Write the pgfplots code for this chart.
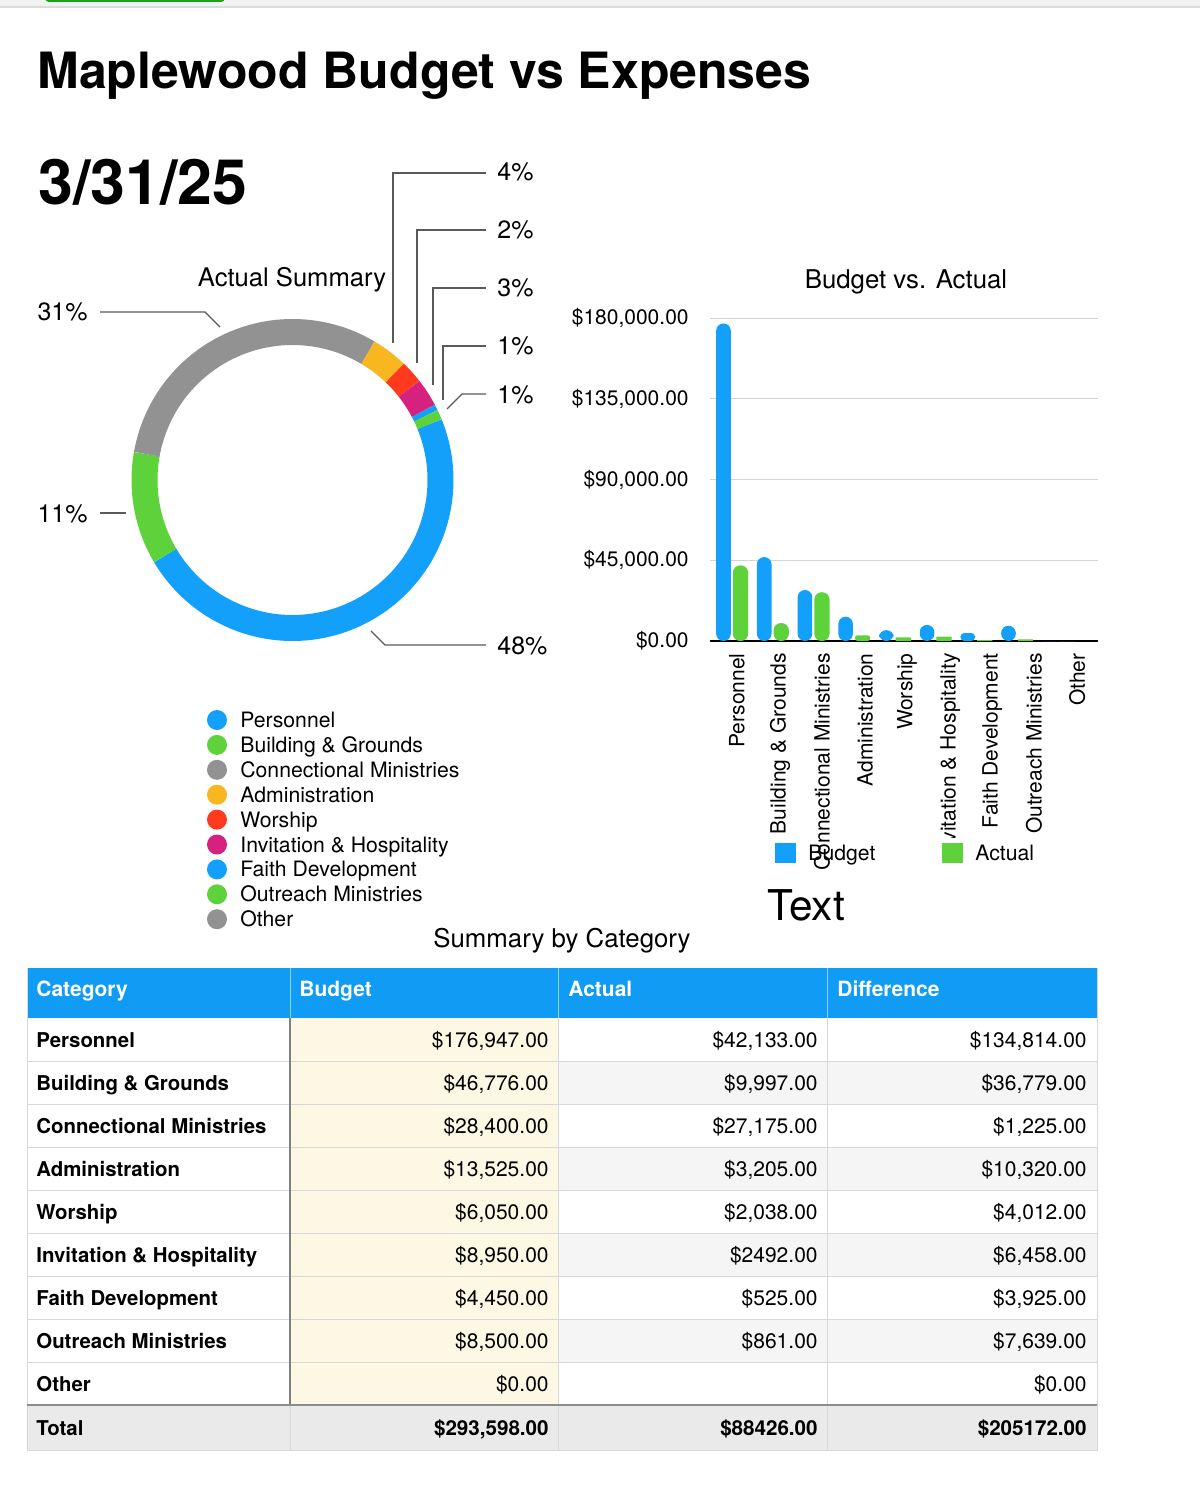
\documentclass[border=0pt]{standalone}
\usepackage{fontspec}
\setmainfont{TeX Gyre Heros}
\usepackage{pgfplots}
\pgfplotsset{compat=1.18}
\definecolor{cBlue}{RGB}{18,160,250}
\definecolor{cHead}{RGB}{16,155,245}
\definecolor{cGreen}{RGB}{94,210,58}
\definecolor{cGray}{RGB}{146,146,146}
\definecolor{cOrange}{RGB}{248,183,32}
\definecolor{cRed}{RGB}{255,58,30}
\definecolor{cMag}{RGB}{214,34,126}
\definecolor{cYel}{RGB}{252,248,228}
\definecolor{cAlt}{RGB}{245,245,245}
\definecolor{cTot}{RGB}{234,234,234}
\definecolor{cGrid}{RGB}{212,212,212}
\definecolor{cLine}{RGB}{216,216,216}
\definecolor{cLead}{RGB}{90,90,90}
\newcommand{\fsz}[1]{\fontsize{#1}{#1}\selectfont}
% Actual values (pie)
\def\PieTotal{88426}
\def\PieStart{22.2}
\edef\aI{\PieStart}
\edef\aII{\fpeval{\aI-42133/\PieTotal*360}}
\edef\aIII{\fpeval{\aII-9997/\PieTotal*360}}
\edef\aIV{\fpeval{\aIII-27175/\PieTotal*360}}
\edef\aV{\fpeval{\aIV-3205/\PieTotal*360}}
\edef\aVI{\fpeval{\aV-2038/\PieTotal*360}}
\edef\aVII{\fpeval{\aVI-2492/\PieTotal*360}}
\edef\aVIII{\fpeval{\aVII-525/\PieTotal*360}}
\edef\aIX{\fpeval{\aVIII-861/\PieTotal*360}}
\begin{document}
\begin{tikzpicture}
\begin{scope}[x=0.5pt,y=-0.5pt]
\fill[white] (0,0) rectangle (1200,1493);
\fill[white!95!black] (0,0) rectangle (1200,7);
\draw[white!86!black, line width=1pt] (0,7.5) -- (1200,7.5);
\fill[green!60!black!90, rounded corners=2pt] (45,-6) rectangle (225,2);
% titles
\node[anchor=base west, inner sep=0pt, font=\bfseries\fsz{25pt}] at (37,89) {Maplewood Budget vs Expenses};
\node[anchor=base west, inner sep=0pt, font=\bfseries\fsz{31.3pt}] at (38,204) {3/31/25};
\node[anchor=base, inner sep=0pt, font=\fsz{12.8pt}] at (292,286) {Actual Summary};
\node[anchor=base, inner sep=0pt, font=\fsz{12.9pt}] at (906,288) {Budget vs. Actual};
\node[anchor=base, inner sep=0pt, font=\fsz{12.9pt}] at (562,947) {Summary by Category};
% leader lines
\draw[cLead, line width=0.6pt] (100,312) -- (205,312) -- (220,327);
\draw[cLead, line width=0.6pt] (100,513) -- (126,513);
\draw[cLead, line width=0.6pt] (371,631) -- (385,645) -- (486,645);
\draw[cLead, line width=0.6pt] (393,343) -- (393,173) -- (486,173);
\draw[cLead, line width=0.6pt] (417,363) -- (417,230) -- (486,230);
\draw[cLead, line width=0.6pt] (433,385) -- (433,288) -- (486,288);
\draw[cLead, line width=0.6pt] (443,400) -- (443,346) -- (486,346);
\draw[cLead, line width=0.6pt] (447,409) -- (462,394) -- (486,394);
\foreach \yy/\tt in {172/4\%,230/2\%,288/3\%,346/1\%,395/1\%,646/48\%}
  \node[anchor=west, inner sep=0pt, font=\fsz{12.5pt}] at (497,\yy) {\tt};
\node[anchor=east, inner sep=0pt, font=\fsz{12.5pt}] at (88,312) {31\%};
\node[anchor=east, inner sep=0pt, font=\fsz{12.5pt}] at (88,514) {11\%};
% pie legend
\foreach \i/\cc/\tt in {0/cBlue/Personnel,1/cGreen/Building \& Grounds,2/cGray/Connectional Ministries,3/cOrange/Administration,4/cRed/Worship,5/cMag/Invitation \& Hospitality,6/cBlue/Faith Development,7/cGreen/Outreach Ministries,8/cGray/Other}{
  \fill[\cc] (217,720+24.9*\i) circle (10);
  \node[anchor=base west, inner sep=0pt, font=\fsz{10.6pt}] at (240,727.5+24.9*\i) {\tt};
}
\end{scope}

% donut
\begin{axis}[at={(146.25pt,-240pt)}, anchor=center, scale only axis,
  width=170pt, height=170pt, xmin=-170, xmax=170, ymin=-170, ymax=170,
  hide axis, clip=false]
\addplot[domain=\aII:\aI, samples=120, line width=13pt, color=cBlue] ({148*cos(x)},{148*sin(x)});
\addplot[domain=\aIII:\aII, samples=40, line width=13pt, color=cGreen] ({148*cos(x)},{148*sin(x)});
\addplot[domain=\aIV:\aIII, samples=90, line width=13pt, color=cGray] ({148*cos(x)},{148*sin(x)});
\addplot[domain=\aV:\aIV, samples=15, line width=13pt, color=cOrange] ({148*cos(x)},{148*sin(x)});
\addplot[domain=\aVI:\aV, samples=10, line width=13pt, color=cRed] ({148*cos(x)},{148*sin(x)});
\addplot[domain=\aVII:\aVI, samples=12, line width=13pt, color=cMag] ({148*cos(x)},{148*sin(x)});
\addplot[domain=\aVIII:\aVII, samples=4, line width=13pt, color=cBlue] ({148*cos(x)},{148*sin(x)});
\addplot[domain=\aIX:\aVIII, samples=5, line width=13pt, color=cGreen] ({148*cos(x)},{148*sin(x)});
\end{axis}

% bar chart
\begin{axis}[at={(355pt,-320.5pt)}, anchor=south west, scale only axis,
  width=194pt, height=161.5pt,
  xmin=-0.54, xmax=8.99, ymin=0, ymax=180000,
  axis x line*=bottom, axis y line*=left,
  y axis line style={draw=none}, x axis line style={line width=1pt,-},
  major tick length=0pt, scaled y ticks=false,
  ytick={0,45000,90000,135000,180000},
  yticklabels={{\$0.00},{\$45,000.00},{\$90,000.00},{\$135,000.00},{\$180,000.00}},
  yticklabel style={anchor=east, inner sep=0pt, font=\fsz{10.5pt}},
  yticklabel shift=10.5pt,
  ymajorgrids, grid style={cGrid, line width=0.5pt},
  xtick={0.12,1.18,2.21,3.27,4.30,5.36,6.39,7.42,8.48},
  xticklabels={Personnel,Building \& Grounds,Connectional Ministries,Administration,Worship,Invitation \& Hospitality,Faith Development,Outreach Ministries,Other},
  xticklabel style={rotate=90, anchor=east, inner sep=0pt, font=\fsz{10.5pt}},
  xticklabel shift=6pt,
  clip=false,
  bstyle/.style={ybar, fill=cBlue, draw=none, bar width=7.3pt, bar shift=-4.25pt},
  astyle/.style={ybar, fill=cGreen, draw=none, bar width=7.6pt, bar shift=4.25pt}]
% Budget
\addplot[bstyle, rounded corners=3.6pt]
 coordinates {(0,176947) (1,46776) (2,28400) (3,13525) (4,6050) (5,8950) (7,8500)};
\addplot[bstyle, rounded corners=1.9pt] coordinates {(6,4450)};
\addplot[bstyle] coordinates {(8,0)};
% Actual
\addplot[astyle, rounded corners=3.6pt] coordinates {(0,42133) (1,9997) (2,27175)};
\addplot[astyle, rounded corners=1.3pt] coordinates {(3,3205)};
\addplot[astyle] coordinates {(4,2038) (5,2492) (6,525) (7,861) (8,0)};
\end{axis}

\begin{scope}[x=0.5pt,y=-0.5pt]
% bar legend
\fill[white] (934,838) rectangle (970,880);
\fill[cBlue] (775,843) rectangle (796,863);
\node[anchor=base west, inner sep=0pt, font=\fsz{10.6pt}] at (808,860.5) {Budget};
\fill[cGreen] (942,843) rectangle (963,863);
\node[anchor=base west, inner sep=0pt, font=\fsz{10.6pt}] at (975,860.5) {Actual};
\node[anchor=base west, inner sep=0pt, font=\fsz{21.2pt}] at (767,920) {Text};
% table
\fill[cHead] (27,968) rectangle (1097,1018);
\draw[white!55!cHead, line width=0.5pt] (290,968) -- (290,1018) (558,968) -- (558,1018) (827,968) -- (827,1018);
\fill[cYel] (290,1018) rectangle (558,1405);
\foreach \r in {1,3,5,7} \fill[cAlt] (558,1018+43*\r) rectangle (1097,1061+43*\r);
\fill[cTot] (27,1405) rectangle (1097,1450);
\foreach \r in {1,...,8} \draw[cLine, line width=0.5pt] (27,1018+43*\r) -- (1097,1018+43*\r);
\draw[cLine, line width=0.5pt] (558,1018) -- (558,1450) (827,1018) -- (827,1450) (290,1405) -- (290,1450);
\draw[cLine, line width=0.5pt] (27,968) -- (27,1450) -- (1097,1450) -- (1097,968);
\draw[white!50!black, line width=0.6pt] (290,1018) -- (290,1405);
\draw[white!55!black, line width=1pt] (27,1405) -- (1097,1405);
\foreach \xx/\tt in {36/Category,299/Budget,568/Actual,837/Difference}
  \node[anchor=base west, inner sep=0pt, font=\bfseries\fsz{10.5pt}, text=white] at (\xx,996.5) {\tt};
\foreach \r/\cat/\bud/\act/\dif in {
 0/Personnel/{\$176,947.00}/{\$42,133.00}/{\$134,814.00},
 1/Building \& Grounds/{\$46,776.00}/{\$9,997.00}/{\$36,779.00},
 2/Connectional Ministries/{\$28,400.00}/{\$27,175.00}/{\$1,225.00},
 3/Administration/{\$13,525.00}/{\$3,205.00}/{\$10,320.00},
 4/Worship/{\$6,050.00}/{\$2,038.00}/{\$4,012.00},
 5/Invitation \& Hospitality/{\$8,950.00}/{\$2492.00}/{\$6,458.00},
 6/Faith Development/{\$4,450.00}/{\$525.00}/{\$3,925.00},
 7/Outreach Ministries/{\$8,500.00}/{\$861.00}/{\$7,639.00},
 8/Other/{\$0.00}/{}/{\$0.00}}{
  \node[anchor=base west, inner sep=0pt, font=\bfseries\fsz{10.2pt}] at (36,1047.5+43*\r) {\cat};
  \node[anchor=base east, inner sep=0pt, font=\fsz{10.5pt}] at (549,1047.5+43*\r) {\bud};
  \node[anchor=base east, inner sep=0pt, font=\fsz{10.5pt}] at (818,1047.5+43*\r) {\act};
  \node[anchor=base east, inner sep=0pt, font=\fsz{10.5pt}] at (1087,1047.5+43*\r) {\dif};
}
\node[anchor=base west, inner sep=0pt, font=\bfseries\fsz{10.2pt}] at (36,1435.5) {Total};
\node[anchor=base east, inner sep=0pt, font=\bfseries\fsz{10.3pt}] at (549,1435.5) {\$293,598.00};
\node[anchor=base east, inner sep=0pt, font=\bfseries\fsz{10.3pt}] at (818,1435.5) {\$88426.00};
\node[anchor=base east, inner sep=0pt, font=\bfseries\fsz{10.3pt}] at (1087,1435.5) {\$205172.00};
\end{scope}
\pgfresetboundingbox
\useasboundingbox (0,0) rectangle (600pt,-746.5pt);
\end{tikzpicture}
\end{document}
